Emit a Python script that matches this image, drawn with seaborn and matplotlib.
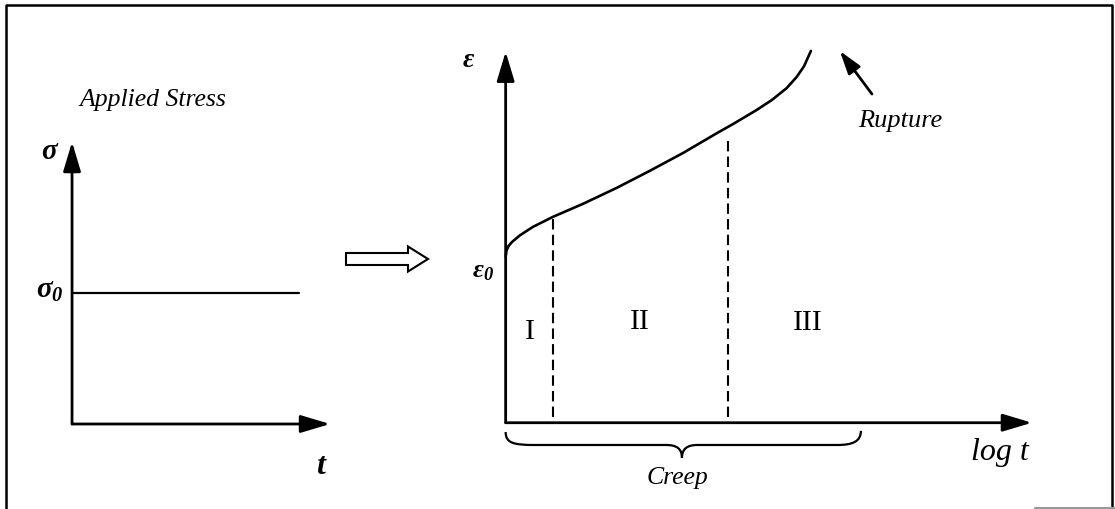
import matplotlib as mpl
import matplotlib.pyplot as plt
import numpy as np
import seaborn as sns
import pandas as pd
from matplotlib.patches import FancyArrow, PathPatch
from matplotlib.path import Path

# creep curve (log t, strain), axis units 0..10
log_t = [0.00, 0.015, 0.053, 0.12, 0.27, 0.52, 0.90, 1.47, 2.11, 2.74, 3.37,
         4.02, 4.32, 4.77, 5.06, 5.34, 5.53, 5.67, 5.80]
strain = [4.47, 4.63, 4.76, 4.87, 5.05, 5.28, 5.55, 5.90, 6.33, 6.79, 7.27,
          7.81, 8.05, 8.43, 8.70, 9.02, 9.32, 9.61, 10.02]

# stage boundaries (log t) and the strain where each dashed line stops
stage_bounds = [0.90, 4.22]
stage_tops = [5.52, 7.70]
stage_names = ["I", "II", "III"]
stage_x = [0.46, 2.55, 5.73]
stage_y = [2.44, 2.71, 2.69]

# applied stress step
stress_t = [0.0, 8.8]
stress_level = [4.65, 4.65]

sns.set_theme(style="white")
mpl.rcParams.update({
  "font.family": ["Liberation Serif", "DejaVu Serif"],
  "text.color": "black",
  "mathtext.fontset": "custom",
  "mathtext.rm": "Liberation Serif",
  "mathtext.it": "Liberation Serif:italic",
  "mathtext.bf": "Liberation Serif:bold:italic",
})

fig = plt.figure(figsize=(11.15, 5.09), dpi=100)

# background canvas in pixel units for the frame and the hollow arrow
bg = fig.add_axes([0, 0, 1, 1])
bg.set_xlim(0, 1115)
bg.set_ylim(509, 0)
bg.set_axis_off()
bg.plot([6, 6, 1112, 1112], [509, 5, 5, 506], color="black", lw=1.8)
bg.plot([1035, 1115], [508, 508], color="0.6", lw=1.5)
bg.add_patch(FancyArrow(346, 259, 82, 0, width=12, head_width=25, head_length=20,
                        length_includes_head=True, fc="white", ec="black", lw=1.5))

axis_arrow = dict(arrowstyle="-|>,head_length=0.9,head_width=0.27", mutation_scale=20,
                  lw=2.0, color="black", shrinkA=0, shrinkB=0)

# ---- left panel: applied stress
axl = fig.add_axes([0.0646, 0.167, 0.2314, 0.554])
axl.set_xlim(0, 10)
axl.set_ylim(0, 10)
axl.set_axis_off()
axl.annotate("", xy=(10, 0), xytext=(0, 0), arrowprops=axis_arrow, annotation_clip=False)
axl.annotate("", xy=(0, 10), xytext=(0, 0), arrowprops=axis_arrow, annotation_clip=False)
sns.lineplot(x=stress_t, y=stress_level, ax=axl, color="black", lw=1.6)
axl.text(-0.85, 9.65, r"$\mathbf{\sigma}$", fontsize=21, ha="center", va="center")
axl.text(-0.85, 4.72, r"$\mathbf{\sigma_0}$", fontsize=21, ha="center", va="center")
axl.text(9.61, -1.52, "t", fontsize=23, style="italic", weight="bold", ha="center", va="center")
axl.text(3.12, 11.49, "Applied Stress", fontsize=18.5, style="italic", ha="center", va="center")

# ---- right panel: creep strain vs log t
axr = fig.add_axes([0.4535, 0.1695, 0.472, 0.7289])
axr.set_xlim(0, 10)
axr.set_ylim(0, 10)
axr.set_axis_off()
axr.annotate("", xy=(10, 0), xytext=(0, 0), arrowprops=axis_arrow, annotation_clip=False)
axr.annotate("", xy=(0, 10), xytext=(0, 0), arrowprops=axis_arrow, annotation_clip=False)

curve = pd.DataFrame({"log_t": log_t, "strain": strain})
sns.lineplot(data=curve, x="log_t", y="strain", ax=axr, color="black", lw=1.9,
             sort=False, estimator=None)
for ln in axr.lines:
  ln.set_clip_on(False)
  ln.set_solid_joinstyle("round")

axr.vlines(stage_bounds, 0.15, stage_tops, colors="black", lw=1.5, linestyles=(0, (5, 2.5)))
for name, x, y in zip(stage_names, stage_x, stage_y):
  axr.text(x, y, name, fontsize=21.5, ha="center", va="center")

axr.text(-0.71, 9.75, r"$\mathbf{\varepsilon}$", fontsize=20, ha="center", va="center")
axr.text(-0.43, 4.06, r"$\mathbf{\varepsilon_0}$", fontsize=19, ha="center", va="center")
axr.text(9.39, -0.79, "log t", fontsize=23, style="italic", ha="center", va="center")

# rupture pointer
axr.annotate("", xy=(6.35, 10.02), xytext=(6.96, 8.86), annotation_clip=False,
             arrowprops=dict(arrowstyle="-|>,head_length=0.7,head_width=0.22",
                             mutation_scale=20, lw=2.0, color="black", shrinkA=0, shrinkB=0))
axr.text(7.49, 8.13, "Rupture", fontsize=19, style="italic", ha="center", va="center")

# brace under stages I-III
verts = [(0, -0.25), (0, -0.55), (0.15, -0.60), (0.55, -0.60),
         (3.05, -0.60),
         (3.25, -0.60), (3.35, -0.70), (3.35, -0.95),
         (3.35, -0.70), (3.45, -0.60), (3.65, -0.60),
         (6.30, -0.60),
         (6.60, -0.60), (6.75, -0.50), (6.75, -0.22)]
codes = [Path.MOVETO, Path.CURVE4, Path.CURVE4, Path.CURVE4,
         Path.LINETO,
         Path.CURVE4, Path.CURVE4, Path.CURVE4,
         Path.CURVE4, Path.CURVE4, Path.CURVE4,
         Path.LINETO,
         Path.CURVE4, Path.CURVE4, Path.CURVE4]
axr.add_patch(PathPatch(Path(verts, codes), fill=False, lw=1.6, ec="black", clip_on=False))
axr.text(3.27, -1.49, "Creep", fontsize=18.5, style="italic", ha="center", va="center")

fig.savefig("out.png", dpi=100)
